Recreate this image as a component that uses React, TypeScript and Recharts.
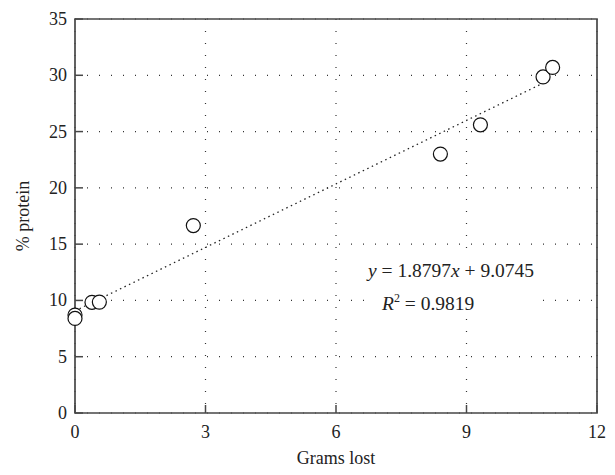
import React from 'react';
import { ComposedChart, Scatter, XAxis, YAxis, CartesianGrid, ReferenceArea, Customized } from 'recharts';

// measured points (grams lost vs % protein)
const gramsLost = [0.0, 0.0, 0.39, 0.56, 2.72, 8.4, 9.32, 10.76, 10.98];
const proteinPct = [8.7, 8.4, 9.83, 9.85, 16.65, 23.0, 25.6, 29.85, 30.7];

// fitted line end points
const trendX = [0, 10.75];
const trendY = [9.07, 29.28];

const xTicks = [0, 3, 6, 9, 12];
const yTicks = [0, 5, 10, 15, 20, 25, 30, 35];

const points = gramsLost.map((x, i) => ({ x, y: proteinPct[i] }));
const trend = trendX.map((x, i) => ({ x, y: trendY[i] }));

const FONT = '"Liberation Serif", "DejaVu Serif", serif';
const FRAME = '#474747';

const Circle = (props: any) => {
  const { cx, cy } = props;
  return <circle cx={cx} cy={cy} r={7} fill="#fff" stroke="#111" strokeWidth={1.2} />;
};

// axis is 1px tall, so the tick y sits on its top edge; frame line is at bottom of plot
const XTick = (props: any) => {
  const { x, payload } = props;
  const y = 413;
  return (
    <g>
      <line x1={x} x2={x} y1={y} y2={y - 8} stroke={FRAME} strokeWidth={1.5} />
      <text x={x} y={y + 25} textAnchor="middle" fontFamily={FONT} fontSize={18} fill="#222">
        {payload.value}
      </text>
    </g>
  );
};

const YTick = (props: any) => {
  const { y, payload } = props;
  const x = 75;
  return (
    <g>
      <line x1={x} x2={x + 8} y1={y} y2={y} stroke={FRAME} strokeWidth={1.5} />
      <text x={x - 8} y={y + 6} textAnchor="end" fontFamily={FONT} fontSize={18} fill="#222">
        {payload.value}
      </text>
    </g>
  );
};

const Equation = () => (
  <g fontFamily={FONT} fontSize={19.5} fill="#222">
    <rect x={364} y={259} width={178} height={56} fill="#fff" />
    <text x={368} y={277}>
      <tspan fontStyle="italic">y</tspan> = 1.8797<tspan fontStyle="italic">x</tspan> + 9.0745
    </text>
    <text x={382} y={310}>
      <tspan fontStyle="italic">R</tspan>
      <tspan fontSize={12} dy={-8}>2</tspan>
      <tspan dy={8}> = 0.9819</tspan>
    </text>
  </g>
);

export default function App() {
  return (
    <div style={{ position: 'absolute', left: 0, top: 0, background: '#fff' }}>
      <ComposedChart width={615} height={475} margin={{ top: 19, right: 18, bottom: 61, left: 74 }}>
        <CartesianGrid stroke="#333" strokeDasharray="1 11" strokeWidth={1.2} />
        <XAxis
          dataKey="x"
          type="number"
          domain={[0, 12]}
          ticks={xTicks}
          interval={0}
          height={1}
          tickSize={0}
          tickMargin={0}
          axisLine={false}
          tickLine={false}
          tick={(p: any) => <XTick {...p} />}
        />
        <YAxis
          dataKey="y"
          type="number"
          domain={[0, 35]}
          ticks={yTicks}
          interval={0}
          width={1}
          tickSize={0}
          tickMargin={0}
          axisLine={false}
          tickLine={false}
          tick={(p: any) => <YTick {...p} />}
        />
        <Scatter
          data={trend}
          line={{ stroke: '#222', strokeWidth: 1.3, strokeDasharray: '1.5 3.5' }}
          lineType="joint"
          shape={() => <g />}
          isAnimationActive={false}
        />
        <Scatter data={points} shape={<Circle />} isAnimationActive={false} />
        <ReferenceArea x1={0} x2={12} y1={0} y2={35} fill="none" stroke={FRAME} strokeWidth={1.7} />
        <Customized component={Equation} />
        <text x={336} y={464} textAnchor="middle" fontFamily={FONT} fontSize={18} fill="#222">
          Grams lost
        </text>
        <text
          x={29}
          y={216}
          textAnchor="middle"
          transform="rotate(-90 29 216)"
          fontFamily={FONT}
          fontSize={18}
          fill="#222"
        >
          % protein
        </text>
      </ComposedChart>
    </div>
  );
}
